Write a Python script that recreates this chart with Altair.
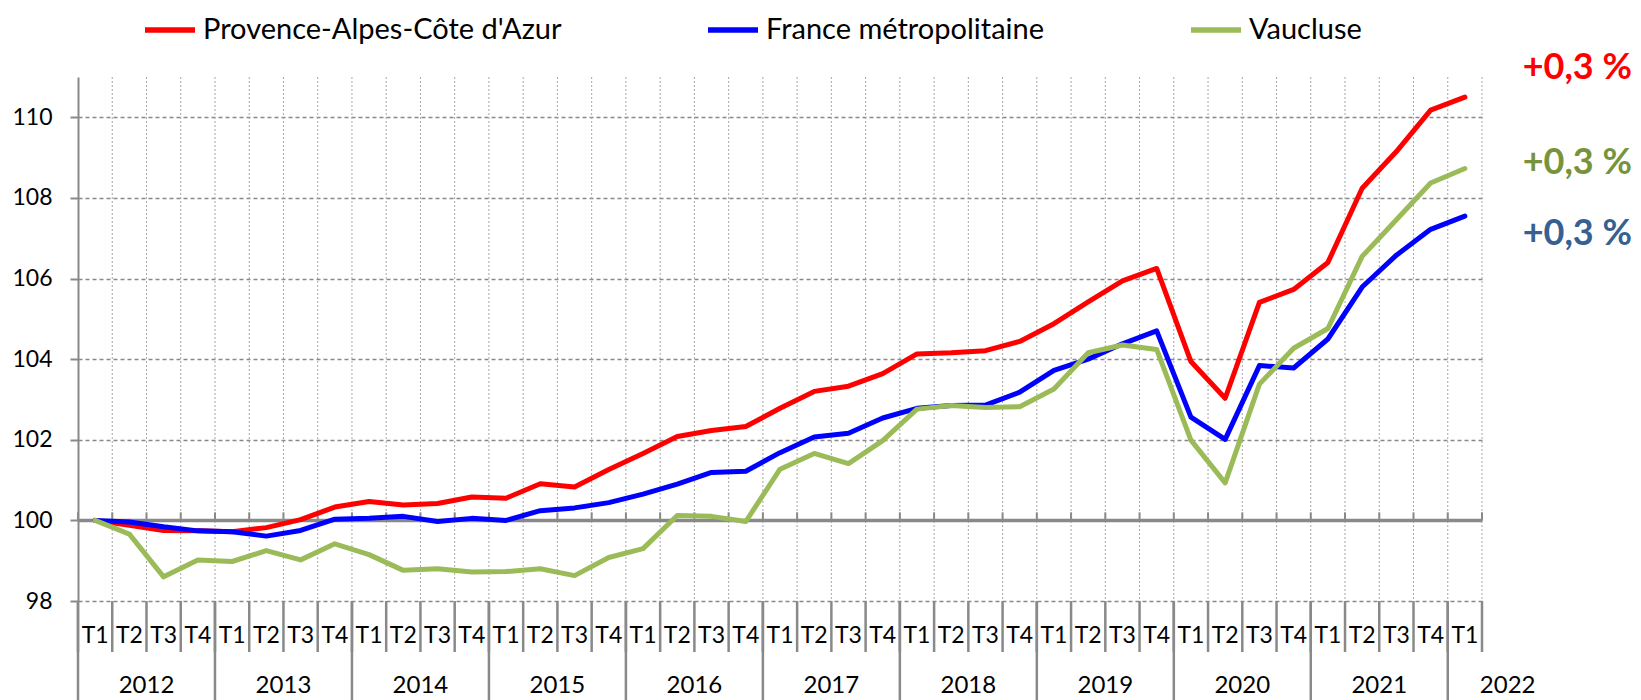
import altair as alt
import pandas as pd

# ---------------- data ----------------
series_names = ["Provence-Alpes-Côte d'Azur", "France métropolitaine", "Vaucluse"]
paca = [100, 99.88, 99.75, 99.74, 99.72, 99.82, 100.02, 100.33, 100.47, 100.38, 100.42, 100.58,
        100.55, 100.91, 100.83, 101.26, 101.66, 102.08, 102.23, 102.33, 102.78, 103.2, 103.33, 103.64,
        104.13, 104.16, 104.21, 104.44, 104.88, 105.42, 105.94, 106.25, 103.94, 103.03, 105.41, 105.73,
        106.4, 108.24, 109.15, 110.18, 110.5]
france = [100, 99.96, 99.84, 99.74, 99.72, 99.61, 99.75, 100.03, 100.05, 100.1, 99.97, 100.05,
          100.0, 100.24, 100.31, 100.44, 100.65, 100.9, 101.19, 101.22, 101.68, 102.07, 102.16, 102.54,
          102.78, 102.85, 102.86, 103.18, 103.72, 104.0, 104.38, 104.7, 102.56, 102.01, 103.84, 103.78,
          104.5, 105.79, 106.58, 107.22, 107.55]
vaucluse = [100, 99.66, 98.6, 99.02, 98.98, 99.25, 99.02, 99.42, 99.15, 98.76, 98.8, 98.72,
            98.73, 98.8, 98.63, 99.08, 99.3, 100.12, 100.1, 99.97, 101.27, 101.66, 101.41, 101.98,
            102.76, 102.85, 102.8, 102.82, 103.26, 104.16, 104.35, 104.24, 101.99, 100.93, 103.38, 104.27,
            104.76, 106.55, 107.46, 108.37, 108.73]
year_labels = ["2012", "2013", "2014", "2015", "2016", "2017", "2018", "2019", "2020", "2021", "2022"]
quarter_labels = ["T1", "T2", "T3", "T4"]
end_labels = ["+0,3 %", "+0,3 %", "+0,3 %"]
y_ticks = [98, 100, 102, 104, 106, 108, 110]

# ---------------- styles ----------------
line_colors = ["#FF0000", "#0000FF", "#9BBB59"]
end_label_colors = ["#FF0000", "#376092", "#77933C"]   # same order as series_names
end_label_dy = [-29, 18, -5]
FONT = "Lato"
GREY = "#898989"
W, H = 1404, 524
PAD = {"left": 70, "top": 69, "right": 151, "bottom": 99}

all_series = [paca, france, vaucluse]
n = len(paca)

rows = []
for name, vals in zip(series_names, all_series):
    for i, v in enumerate(vals):
        rows.append({"i": i, "series": name, "value": v})
df = pd.DataFrame(rows)

qdf = pd.DataFrame({"i": list(range(n)),
                    "q": [quarter_labels[i % 4] for i in range(n)]})

ydf_rows = []
for k, yl in enumerate(year_labels):
    idx = [i for i in range(n) if i // 4 == k]
    cnt = len(idx)
    pos = idx[0] + (cnt / 2 if cnt == 4 else 1.75)
    ydf_rows.append({"year": yl, "pos": pos})
ydf = pd.DataFrame(ydf_rows)

bdf = pd.DataFrame({"b": list(range(n + 1))})
bdf["long"] = [(b % 4 == 0 and b < n) for b in bdf["b"]]

edf = pd.DataFrame({"series": series_names, "value": [s[-1] for s in all_series],
                    "label": end_labels})

xs = alt.Scale(domain=[0, n], nice=False, zero=False)
ys = alt.Scale(domain=[98, 111], nice=False, zero=False)
yaxis = alt.Axis(values=y_ticks, grid=True, gridDash=[4, 3], gridColor=GREY, gridWidth=1.3,
                 domainColor=GREY, domainWidth=2, tickColor=GREY, tickWidth=2, tickSize=8,
                 labelFont=FONT, labelFontSize=23, labelColor="black", labelPadding=18, title=None)

vgrid = alt.Chart(bdf).transform_filter("datum.b > 0").mark_rule(
    color="#A6A6A6", strokeWidth=1, strokeDash=[2, 2]
).encode(x=alt.X("b:Q", scale=xs, axis=None), y=alt.value(0), y2=alt.value(H))

axis100 = alt.Chart(pd.DataFrame({"x0": [0], "x1": [n], "y": [100]})).mark_rule(
    color=GREY, strokeWidth=3.5
).encode(x=alt.X("x0:Q", scale=xs, axis=None), x2="x1:Q",
         y=alt.Y("y:Q", scale=ys, axis=yaxis))

upticks = alt.Chart(bdf).transform_calculate(y0="100", y1="100.2").mark_rule(
    color=GREY, strokeWidth=2
).encode(x=alt.X("b:Q", scale=xs, axis=None),
         y=alt.Y("y0:Q", scale=ys, axis=yaxis), y2="y1:Q")

sep_short = alt.Chart(bdf).mark_rule(color=GREY, strokeWidth=2.5).encode(
    x=alt.X("b:Q", scale=xs, axis=None), y=alt.value(H), y2=alt.value(H + 51))
sep_long = alt.Chart(bdf).transform_filter("datum.long").mark_rule(color=GREY, strokeWidth=2.5).encode(
    x=alt.X("b:Q", scale=xs, axis=None), y=alt.value(H), y2=alt.value(H + PAD["bottom"]))

lines = alt.Chart(df).transform_calculate(xc="datum.i + 0.5").mark_line(
    strokeWidth=5, strokeJoin="round", strokeCap="round"
).encode(
    x=alt.X("xc:Q", scale=xs, axis=None),
    y=alt.Y("value:Q", scale=ys, axis=yaxis),
    color=alt.Color("series:N", sort=series_names,
                    scale=alt.Scale(domain=series_names, range=line_colors),
                    legend=alt.Legend(orient="none", legendX=64, legendY=-75, direction="horizontal",
                                      title=None, symbolType="stroke", symbolSize=2500,
                                      symbolStrokeWidth=5.5, labelFont=FONT, labelFontSize=29,
                                      labelColor="black", labelLimit=800, labelOffset=5,
                                      columnPadding=135, padding=0)),
)

qtext = alt.Chart(qdf).transform_calculate(xc="datum.i + 0.5").mark_text(
    font=FONT, fontSize=23, color="black", baseline="middle", align="center"
).encode(x=alt.X("xc:Q", scale=xs, axis=None), y=alt.value(H + 35), text="q:N")

ytext = alt.Chart(ydf).mark_text(
    font=FONT, fontSize=24, color="black", baseline="middle", align="center"
).encode(x=alt.X("pos:Q", scale=xs, axis=None), y=alt.value(H + 85), text="year:N")

end_layers = []
for name, col, dy in zip(series_names, end_label_colors, end_label_dy):
    end_layers.append(
        alt.Chart(edf).transform_filter(alt.datum.series == name).mark_text(
            font=FONT, fontSize=36, fontWeight="bold", color=col, align="right",
            baseline="middle", dx=150, dy=dy
        ).encode(x=alt.value(W), y=alt.Y("value:Q", scale=ys, axis=yaxis), text="label:N")
    )

chart = alt.layer(vgrid, axis100, upticks, sep_short, sep_long, lines, qtext, ytext, *end_layers).properties(
    width=W, height=H,
    autosize=alt.AutoSizeParams(type="none"),
    padding=PAD,
    background="white",
).configure_view(stroke=None)

chart.save("out.html", embed_options={"renderer": "svg", "actions": False})
